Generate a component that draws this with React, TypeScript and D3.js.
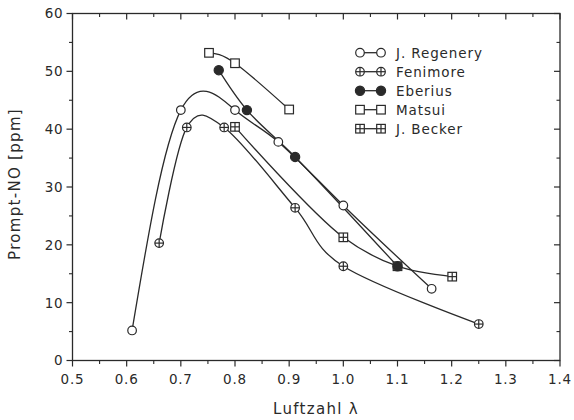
import React from "react";
import * as d3 from "d3";

const xTicks = [0.5, 0.6, 0.7, 0.8, 0.9, 1.0, 1.1, 1.2, 1.3, 1.4];
const yTicks = [0, 10, 20, 30, 40, 50, 60];

const regeneryX = [0.61, 0.70, 0.80, 0.88, 1.0, 1.163];
const regeneryY = [5.2, 43.3, 43.3, 37.8, 26.8, 12.4];
const fenimoreX = [0.66, 0.711, 0.78, 0.911, 1.0, 1.25];
const fenimoreY = [20.3, 40.3, 40.3, 26.4, 16.3, 6.3];
const eberiusX = [0.77, 0.822, 0.911, 1.10];
const eberiusY = [50.2, 43.3, 35.2, 16.3];
const matsuiX = [0.752, 0.80, 0.90];
const matsuiY = [53.2, 51.4, 43.4];
const beckerX = [0.80, 1.0, 1.10, 1.201];
const beckerY = [40.4, 21.3, 16.3, 14.5];

const seriesNames = ["J. Regenery", "Fenimore", "Eberius", "Matsui", "J. Becker"];
const seriesSymbols = ["circle", "circlePlus", "filled", "square", "squarePlus"];

const W = 574, H = 420;
const M = { left: 72.5, right: 560, top: 13.5, bottom: 360.5 };
const INK = "#2a2a2a";
const FONT = "'DejaVu Sans', Verdana, sans-serif";

function Marker({ x, y, type }: { x: number; y: number; type: string }) {
  const r = 4.3;
  const s = 4.3;
  const sw = 1.2;
  if (type === "circle") return <circle cx={x} cy={y} r={r} fill="white" stroke={INK} strokeWidth={sw} />;
  if (type === "filled") return <circle cx={x} cy={y} r={r + 0.3} fill={INK} stroke={INK} strokeWidth={sw} />;
  if (type === "circlePlus")
    return (
      <g>
        <circle cx={x} cy={y} r={r} fill="white" stroke={INK} strokeWidth={sw} />
        <line x1={x - r} x2={x + r} y1={y} y2={y} stroke={INK} strokeWidth={sw} />
        <line x1={x} x2={x} y1={y - r} y2={y + r} stroke={INK} strokeWidth={sw} />
      </g>
    );
  if (type === "square") return <rect x={x - s} y={y - s} width={2 * s} height={2 * s} fill="white" stroke={INK} strokeWidth={sw} />;
  return (
    <g>
      <rect x={x - s} y={y - s} width={2 * s} height={2 * s} fill="white" stroke={INK} strokeWidth={sw} />
      <line x1={x - s} x2={x + s} y1={y} y2={y} stroke={INK} strokeWidth={sw} />
      <line x1={x} x2={x} y1={y - s} y2={y + s} stroke={INK} strokeWidth={sw} />
    </g>
  );
}

export default function App() {
  const x = d3.scaleLinear().domain([0.5, 1.4]).range([M.left, M.right]);
  const y = d3.scaleLinear().domain([0, 60]).range([M.bottom, M.top]);
  const mkLine = (curve: d3.CurveFactory) =>
    d3
      .line<[number, number]>()
      .x((d) => x(d[0]))
      .y((d) => y(d[1]))
      .curve(curve);
  const natural = mkLine(d3.curveNatural);
  const catmull = mkLine(d3.curveCatmullRom.alpha(0.5));
  const uniform = mkLine(d3.curveCatmullRom.alpha(0));

  const series = [
    { xs: regeneryX, ys: regeneryY, gen: natural },
    { xs: fenimoreX, ys: fenimoreY, gen: uniform },
    { xs: eberiusX, ys: eberiusY, gen: catmull },
    { xs: matsuiX, ys: matsuiY, gen: natural },
    { xs: beckerX, ys: beckerY, gen: catmull },
  ].map((s, i) => ({
    name: seriesNames[i],
    sym: seriesSymbols[i],
    gen: s.gen,
    pts: s.xs.map((v, j) => [v, s.ys[j]] as [number, number]),
  }));

  const drawOrder = [0, 1, 3, 4, 2];

  const xMinor = d3.range(0.55, 1.4, 0.1);
  const yMinor = d3.range(5, 60, 10);

  return (
    <svg width={W} height={H} style={{ position: "absolute", left: 0, top: 0, background: "white" }}>
      <rect x={M.left} y={M.top} width={M.right - M.left} height={M.bottom - M.top} fill="none" stroke={INK} strokeWidth={1.3} />
      {xTicks.map((t) => (
        <g key={"xt" + t}>
          <line x1={x(t)} x2={x(t)} y1={M.bottom} y2={M.bottom + 6} stroke={INK} strokeWidth={1.2} />
          <line x1={x(t)} x2={x(t)} y1={M.top} y2={M.top + 6} stroke={INK} strokeWidth={1.2} />
          <text x={x(t)} y={384} textAnchor="middle" fontFamily={FONT} fontSize={13.5} letterSpacing={0.8} fill={INK}>
            {t.toFixed(1)}
          </text>
        </g>
      ))}
      {xMinor.map((t) => (
        <g key={"xm" + t}>
          <line x1={x(t)} x2={x(t)} y1={M.bottom} y2={M.bottom + 3.5} stroke={INK} strokeWidth={1.1} />
          <line x1={x(t)} x2={x(t)} y1={M.top} y2={M.top + 3.5} stroke={INK} strokeWidth={1.1} />
        </g>
      ))}
      {yTicks.map((t) => (
        <g key={"yt" + t}>
          <line x1={M.left - 6} x2={M.left} y1={y(t)} y2={y(t)} stroke={INK} strokeWidth={1.2} />
          <line x1={M.right - 6} x2={M.right} y1={y(t)} y2={y(t)} stroke={INK} strokeWidth={1.2} />
          <text x={M.left - 9} y={y(t)} dy="0.36em" textAnchor="end" fontFamily={FONT} fontSize={13.5} letterSpacing={0.8} fill={INK}>
            {t}
          </text>
        </g>
      ))}
      {yMinor.map((t) => (
        <g key={"ym" + t}>
          <line x1={M.left - 3.5} x2={M.left} y1={y(t)} y2={y(t)} stroke={INK} strokeWidth={1.1} />
          <line x1={M.right - 3.5} x2={M.right} y1={y(t)} y2={y(t)} stroke={INK} strokeWidth={1.1} />
        </g>
      ))}
      <text x={316} y={414} textAnchor="middle" fontFamily={FONT} fontSize={15} letterSpacing={1.3} fill={INK}>
        Luftzahl λ
      </text>
      <text
        transform={`translate(20,${(M.top + M.bottom) / 2 - 3}) rotate(-90)`}
        textAnchor="middle"
        fontFamily={FONT}
        fontSize={15}
        letterSpacing={1.3}
        fill={INK}
      >
        Prompt-NO [ppm]
      </text>
      {drawOrder.map((i) => (
        <path key={"c" + i} d={series[i].gen(series[i].pts) || ""} fill="none" stroke={INK} strokeWidth={1.3} />
      ))}
      {drawOrder.map((i) =>
        series[i].pts.map((p, j) => <Marker key={"m" + i + "-" + j} x={x(p[0])} y={y(p[1])} type={series[i].sym} />)
      )}
      {series.map((s, i) => {
        const ly = 52.7 + i * 19;
        return (
          <g key={"lg" + i}>
            <line x1={360} x2={381} y1={ly} y2={ly} stroke={INK} strokeWidth={1.3} />
            <Marker x={360} y={ly} type={s.sym} />
            <Marker x={381} y={ly} type={s.sym} />
            <text x={396} y={ly} dy="0.36em" fontFamily={FONT} fontSize={13.5} letterSpacing={0.9} fill={INK}>
              {s.name}
            </text>
          </g>
        );
      })}
    </svg>
  );
}
